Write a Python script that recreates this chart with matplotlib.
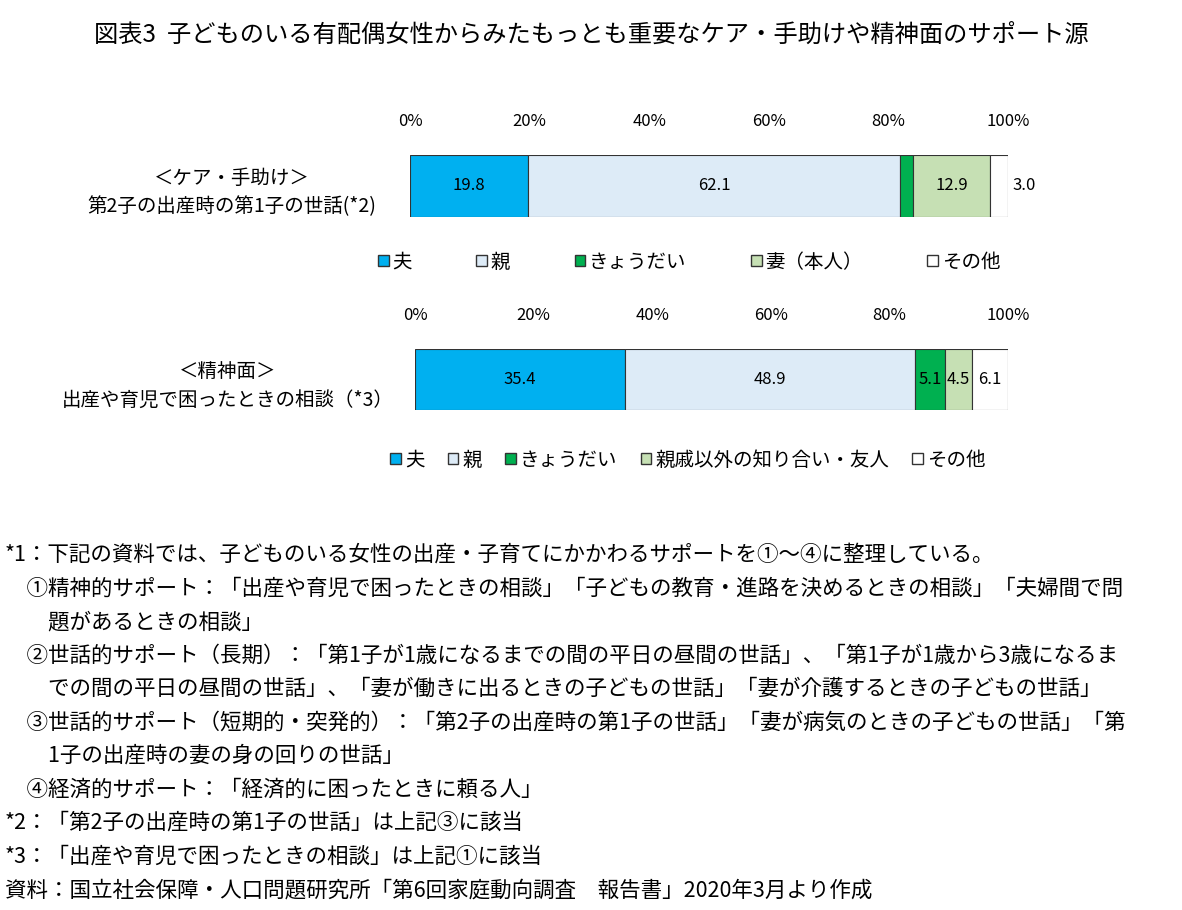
import matplotlib
matplotlib.use("Agg")
import matplotlib.pyplot as plt
from matplotlib.patches import Patch

plt.rcParams['font.family'] = ['Noto Sans CJK JP', 'DejaVu Sans']

title = "図表3  子どものいる有配偶女性からみたもっとも重要なケア・手助けや精神面のサポート源"
cat1 = "＜ケア・手助け＞\n第2子の出産時の第1子の世話(*2)"
labels1 = ["夫", "親", "きょうだい", "妻（本人）", "その他"]
values1 = [19.8, 62.1, 2.2, 12.9, 3.0]
cat2 = "＜精神面＞\n出産や育児で困ったときの相談（*3）"
labels2 = ["夫", "親", "きょうだい", "親戚以外の知り合い・友人", "その他"]
values2 = [35.4, 48.9, 5.1, 4.5, 6.1]
ticks = [0, 20, 40, 60, 80, 100]
colors = ["#00B0F0", "#DDEBF7", "#00B050", "#C6E0B4", "#FFFFFF"]
notes = [
    "*1：下記の資料では、子どものいる女性の出産・子育てにかかわるサポートを①～④に整理している。",
    "　①精神的サポート：「出産や育児で困ったときの相談」「子どもの教育・進路を決めるときの相談」「夫婦間で問",
    "　　題があるときの相談」",
    "　②世話的サポート（長期）：「第1子が1歳になるまでの間の平日の昼間の世話」、「第1子が1歳から3歳になるま",
    "　　での間の平日の昼間の世話」、「妻が働きに出るときの子どもの世話」「妻が介護するときの子どもの世話」",
    "　③世話的サポート（短期的・突発的）：「第2子の出産時の第1子の世話」「妻が病気のときの子どもの世話」「第",
    "　　1子の出産時の妻の身の回りの世話」",
    "　④経済的サポート：「経済的に困ったときに頼る人」",
    "*2：「第2子の出産時の第1子の世話」は上記③に該当",
    "*3：「出産や育児で困ったときの相談」は上記①に該当",
    "資料：国立社会保障・人口問題研究所「第6回家庭動向調査　報告書」2020年3月より作成",
]

fig = plt.figure(figsize=(11.82, 9.10), dpi=100)
fig.text(0.5, 1 - 35/910, title, ha='center', va='center', fontsize=17.5)

def draw(rect, cat, labels, values, show, outside_last, leg_x, leg_y, colsp, ypad):
    ax = fig.add_axes(rect)
    left = 0
    for i, (v, c) in enumerate(zip(values, colors)):
        ax.barh(0, v, left=left, color=c, edgecolor='#333333', linewidth=0.8, height=1.0)
        if show[i]:
            if outside_last and i == len(values) - 1:
                ax.text(left + v + 0.8, 0, f"{v:.1f}", ha='left', va='center', fontsize=12)
            else:
                ax.text(left + v/2, 0, f"{v:.1f}", ha='center', va='center', fontsize=12)
        left += v
    ax.set_xlim(0, 100)
    ax.set_ylim(-0.5, 0.5)
    ax.xaxis.tick_top()
    ax.set_xticks(ticks)
    ax.set_xticklabels([f"{t}%" for t in ticks], fontsize=12)
    ax.tick_params(length=0, pad=18)
    ax.set_yticks([0])
    ax.set_yticklabels([cat], fontsize=14, ha='center', linespacing=1.5)
    ax.tick_params(axis='y', pad=ypad)
    for s in ax.spines.values():
        s.set_visible(False)
    handles = [Patch(facecolor=c, edgecolor='#333333', label=l) for c, l in zip(colors, labels)]
    fig.legend(handles=handles, loc='center', bbox_to_anchor=(leg_x, leg_y), ncol=5,
               frameon=False, fontsize=14, handlelength=0.55, handleheight=0.55,
               handletextpad=0.2, columnspacing=colsp)

draw([410/1182, 1-217/910, 598/1182, 62/910], cat1, labels1, values1,
     [True, True, False, True, True], True, 0.583, 1-262/910, 3.3, 128)
draw([415/1182, 1-410/910, 593/1182, 61/910], cat2, labels2, values2,
     [True, True, True, True, True], False, 0.582, 1-460/910, 1.2, 135)

y0 = 1 - 555/910
for i, line in enumerate(notes):
    fig.text(0.004, y0 - i*(33.5/910), line, ha='left', va='center', fontsize=15.5)

fig.savefig("out.png", dpi=100)
